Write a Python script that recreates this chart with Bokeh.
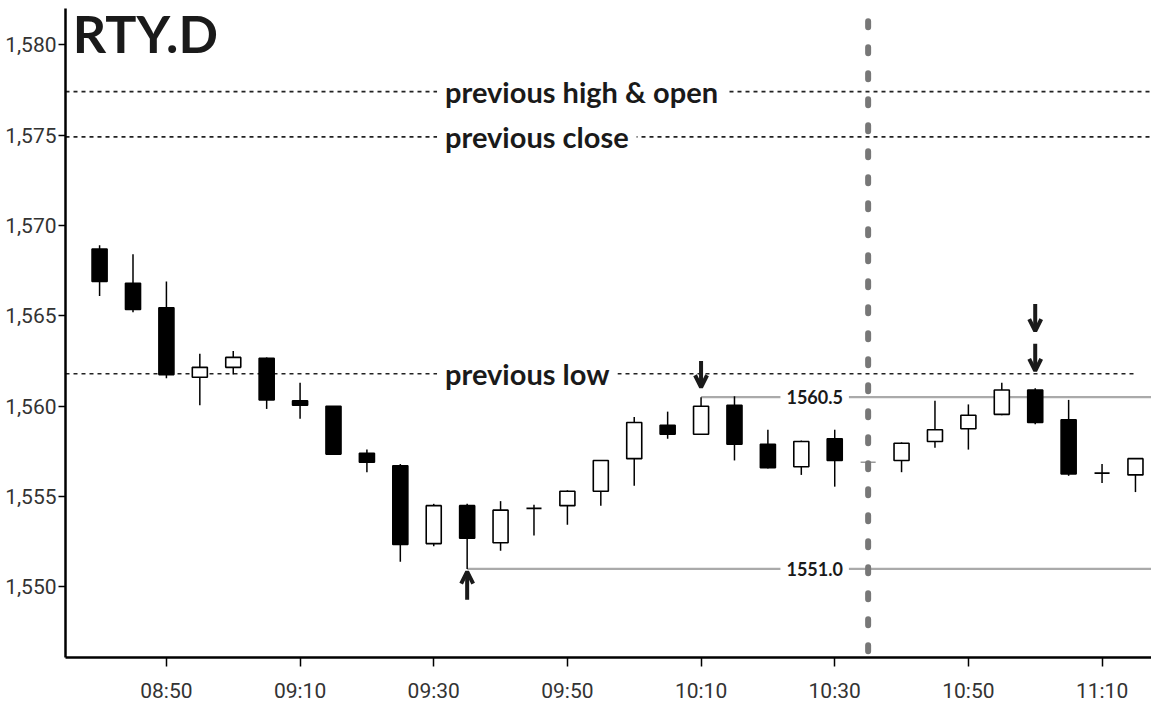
from bokeh.plotting import figure
from bokeh.models import (ColumnDataSource, FixedTicker, NumeralTickFormatter, Label,
                          Arrow, OpenHead, Range1d)
from bokeh.embed import file_html
from bokeh.resources import INLINE

# ---------------- data ----------------
times = ["08:40", "08:45", "08:50", "08:55", "09:00", "09:05", "09:10", "09:15",
         "09:20", "09:25", "09:30", "09:35", "09:40", "09:45", "09:50", "09:55",
         "10:00", "10:05", "10:10", "10:15", "10:20", "10:25", "10:30", "10:35",
         "10:40", "10:45", "10:50", "10:55", "11:00", "11:05", "11:10", "11:15"]
opens = [1568.7, 1566.8, 1565.45, 1561.6, 1562.15, 1562.65, 1560.3, 1560.0,
         1557.4, 1556.7, 1552.4, 1554.5, 1552.45, 1554.35, 1554.5, 1555.3,
         1557.1, 1558.95, 1558.45, 1560.05, 1557.9, 1556.65, 1558.2, 1556.9,
         1557.0, 1558.05, 1558.75, 1559.55, 1560.9, 1559.25, 1556.3, 1556.2]
highs = [1568.9, 1568.4, 1566.9, 1562.9, 1563.05, 1562.7, 1561.3, 1560.0,
         1557.6, 1556.8, 1554.6, 1554.6, 1554.75, 1554.55, 1555.35, 1557.0,
         1559.4, 1559.7, 1560.5, 1560.55, 1558.7, 1558.1, 1558.7, 1556.9,
         1558.0, 1560.3, 1560.1, 1561.3, 1561.0, 1560.35, 1556.8, 1557.1]
lows = [1566.1, 1565.2, 1561.55, 1560.05, 1561.75, 1559.85, 1559.3, 1557.35,
        1556.35, 1551.4, 1552.25, 1551.0, 1552.0, 1552.85, 1553.45, 1554.5,
        1555.6, 1558.2, 1558.45, 1557.0, 1556.55, 1556.2, 1555.55, 1556.9,
        1556.35, 1557.7, 1557.6, 1559.5, 1559.0, 1556.15, 1555.75, 1555.25]
closes = [1566.9, 1565.35, 1561.75, 1562.15, 1562.7, 1560.35, 1560.05, 1557.35,
          1556.9, 1552.35, 1554.5, 1552.7, 1554.25, 1554.35, 1555.3, 1557.0,
          1559.1, 1558.45, 1560.0, 1557.9, 1556.6, 1558.05, 1557.0, 1556.9,
          1557.95, 1558.7, 1559.5, 1560.9, 1559.1, 1556.25, 1556.3, 1557.1]

x_tick_labels = ["08:50", "09:10", "09:30", "09:50", "10:10", "10:30", "10:50", "11:10"]
y_ticks = [1550, 1555, 1560, 1565, 1570, 1575, 1580]

prev_names = ["previous high & open", "previous close", "previous low"]
prev_levels = [1577.4, 1574.9, 1561.8]

level_values = [1560.5, 1551.0]
level_starts = ["10:10", "09:35"]
level_texts = ["1560.5", "1551.0"]

session_break = "10:35"

# arrows: (time, tail level, tip level)
arrow_times = ["09:35", "10:10", "11:00", "11:00"]
arrow_tails = [1549.3, 1562.5, 1565.65, 1563.45]
arrow_tips = [1550.85, 1561.05, 1564.15, 1561.95]


def tmin(s):
    h, m = s.split(":")
    return int(h) * 60 + int(m) - 480


xs = [tmin(t) for t in times]
X0, X1 = 34.9, 197.4
Y0, Y1 = 1546.1, 1582.0

p = figure(width=1151, height=705, output_backend="svg", toolbar_location=None,
           x_range=Range1d(X0, X1), y_range=Range1d(Y0, Y1),
           min_border_left=65, min_border_right=0, min_border_top=8,
           min_border_bottom=47)
p.outline_line_color = None
p.grid.visible = False
p.background_fill_color = "white"

# axes
tick_font = "Roboto"
for ax in (p.xaxis[0], p.yaxis[0]):
    ax.axis_line_color = "black"
    ax.axis_line_width = 2.5
    ax.major_tick_line_color = "black"
    ax.major_tick_line_width = 1.5
    ax.minor_tick_line_color = None
    ax.major_label_text_font = tick_font
    ax.major_label_text_font_size = "21px"
    ax.major_label_text_color = "#333333"
p.xaxis.ticker = FixedTicker(ticks=[tmin(t) for t in x_tick_labels])
p.xaxis.major_label_overrides = {tmin(t): t for t in x_tick_labels}
p.xaxis.major_tick_out = 9
p.xaxis.major_tick_in = 0
p.xaxis.major_label_standoff = 12
p.yaxis.ticker = FixedTicker(ticks=y_ticks)
p.yaxis.formatter = NumeralTickFormatter(format="0,0")
p.yaxis.major_tick_out = 7
p.yaxis.major_tick_in = 0
p.yaxis.major_label_standoff = 2

# previous levels (dashed)
ends = [X1, X1, 195.0]
p.segment(x0=[X0] * 3, x1=ends, y0=prev_levels, y1=prev_levels,
          line_color="#222222", line_width=1.6, line_dash="4 4")

# key levels (gray solid)
p.segment(x0=[tmin(s) for s in level_starts], x1=[X1] * 2,
          y0=level_values, y1=level_values, line_color="#aaaaaa", line_width=2.2)

# candles
up = [c >= o for o, c in zip(opens, closes)]
src = ColumnDataSource(dict(
    x=xs, o=opens, h=highs, l=lows, c=closes,
    top=[max(o, c) for o, c in zip(opens, closes)],
    bot=[min(o, c) for o, c in zip(opens, closes)],
    fill=["white" if u else "black" for u in up],
    col=["#999999" if t == session_break else "black" for t in times],
))
p.segment(x0="x", x1="x", y0="l", y1="h", source=src, line_color="col", line_width=1.5)
p.vbar(x="x", width=2.25, top="top", bottom="bot", source=src,
       fill_color="fill", line_color="col", line_width=1.6)

# session break line
sb = tmin(session_break)
p.segment(x0=[sb], x1=[sb], y0=[1581.3], y1=[1546.2], line_color="#777777",
          line_width=6, line_dash="6 20", line_cap="round")

# labels for previous levels
label_font = "Lato"
for name, lev in zip(prev_names, prev_levels):
    p.add_layout(Label(x=90.5, y=lev, text=name, text_align="left", text_baseline="middle",
                       text_font=label_font, text_font_style="bold", text_font_size="29px",
                       text_color="#1a1a1a", background_fill_color="white",
                       padding=8))

for txt, lev in zip(level_texts, level_values):
    p.add_layout(Label(x=147.0, y=lev, text=txt, text_align="center", text_baseline="middle",
                       text_font=label_font, text_font_style="bold", text_font_size="18px",
                       text_color="#1a1a1a", background_fill_color="white",
                       padding=6))

# arrows
for t, y0, y1 in zip(arrow_times, arrow_tails, arrow_tips):
    p.add_layout(Arrow(x_start=tmin(t), x_end=tmin(t), y_start=y0, y_end=y1,
                       line_width=4, line_color="#1a1a1a",
                       end=OpenHead(size=12, line_width=4, line_color="#1a1a1a")))

# title
p.add_layout(Label(x=36.0, y=1580.65, text="RTY.D", text_align="left",
                   text_baseline="alphabetic",
                   text_font=label_font, text_font_style="bold", text_font_size="52px",
                   text_color="#1a1a1a"))

open("out.html", "w").write(file_html(p, INLINE))
